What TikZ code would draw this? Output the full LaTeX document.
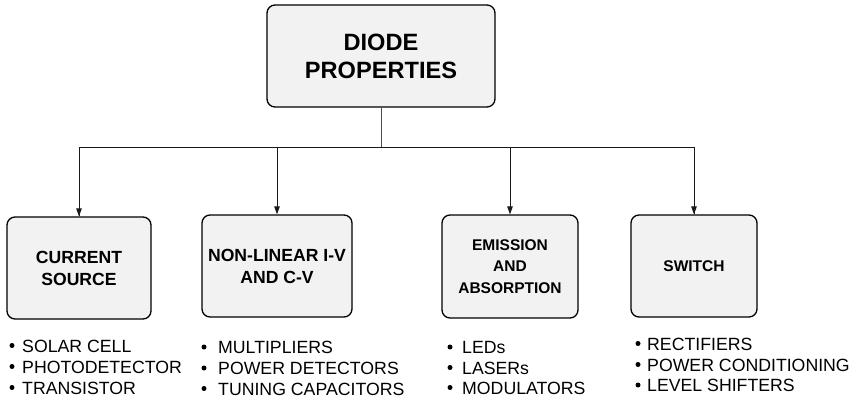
\documentclass[tikz,border=0pt]{standalone}
\usepackage{fontspec}
\setmainfont{Liberation Sans}
\usetikzlibrary{arrows.meta}
\definecolor{boxgray}{HTML}{F2F2F2}
\begin{document}
\begin{tikzpicture}[x=1pt,y=-1pt,
  box/.style={draw=black,line width=1.3pt,rounded corners=8pt,fill=boxgray,inner sep=0pt,align=center},
  bigtxt/.style={font=\bfseries\fontsize{23.6}{28}\selectfont},
  midtxt/.style={font=\bfseries\fontsize{17.6}{22}\selectfont},
  smalltxt/.style={font=\bfseries\fontsize{15.5}{21.7}\selectfont},
  item/.style={anchor=base west,inner sep=0pt,font=\fontsize{17.7}{21}\selectfont},
  bul/.style={circle,fill=black,inner sep=0pt,minimum size=5pt},
  conn/.style={line width=0.9pt,draw=black!90},
  arr/.style={conn,-{Triangle[length=8pt,width=5.5pt]}}
]
\useasboundingbox (0,0) rectangle (856,401);

\node[box,bigtxt,minimum width=228pt,minimum height=102pt] (top) at (381,56) {DIODE\\PROPERTIES};

\node[box,midtxt,minimum width=144pt,minimum height=102pt] (b1) at (79,268) {CURRENT\\SOURCE};
\node[box,midtxt,minimum width=150pt,minimum height=102pt] (b2) at (277,266) {NON-LINEAR I-V\\AND C-V};
\node[box,smalltxt,minimum width=136pt,minimum height=103pt] (b3) at (510,266.5) {EMISSION\\AND\\ABSORPTION};
\node[box,smalltxt,minimum width=126pt,minimum height=102pt] (b4) at (694,266) {SWITCH};

\coordinate (j) at (381,147);
\draw[conn,draw=black!70] (top.south) -- (j);
\draw[conn] (j) -| (b1.north);
\draw[conn] (j) -| (b4.north);
\draw[arr] (j) -| (b1.north);
\draw[arr] (j) -| (b2.north);
\draw[arr] (j) -| (b3.north);
\draw[arr] (j) -| (b4.north);

% list 1
\node[bul] (p1a) at (12,345.5) {};
\node[bul] (p1b) at (12,366.5) {};
\node[bul] (p1c) at (12,387.5) {};
\node[item] (t1a) at (22,352) {SOLAR CELL};
\node[item] (t1b) at (22,373) {PHOTODETECTOR};
\node[item] (t1c) at (22,394) {TRANSISTOR};
% list 2
\node[bul] (p2a) at (204,347) {};
\node[bul] (p2b) at (204,368) {};
\node[bul] (p2c) at (204,388.5) {};
\node[item] (t2a) at (218,353.5) {MULTIPLIERS};
\node[item] (t2b) at (218,374.5) {POWER DETECTORS};
\node[item] (t2c) at (218,395) {TUNING CAPACITORS};
% list 3
\node[bul] (p3a) at (450,347) {};
\node[bul] (p3b) at (450,367.5) {};
\node[bul] (p3c) at (450,387.5) {};
\node[item] (t3a) at (462,353.5) {LEDs};
\node[item] (t3b) at (462,374) {LASERs};
\node[item] (t3c) at (462,394) {MODULATORS};
% list 4
\node[bul] (p4a) at (638,343.5) {};
\node[bul] (p4b) at (638,364.5) {};
\node[bul] (p4c) at (638,385) {};
\node[item] (t4a) at (647,350) {RECTIFIERS};
\node[item] (t4b) at (647,371) {POWER CONDITIONING};
\node[item] (t4c) at (647,391.5) {LEVEL SHIFTERS};
\end{tikzpicture}
\end{document}
